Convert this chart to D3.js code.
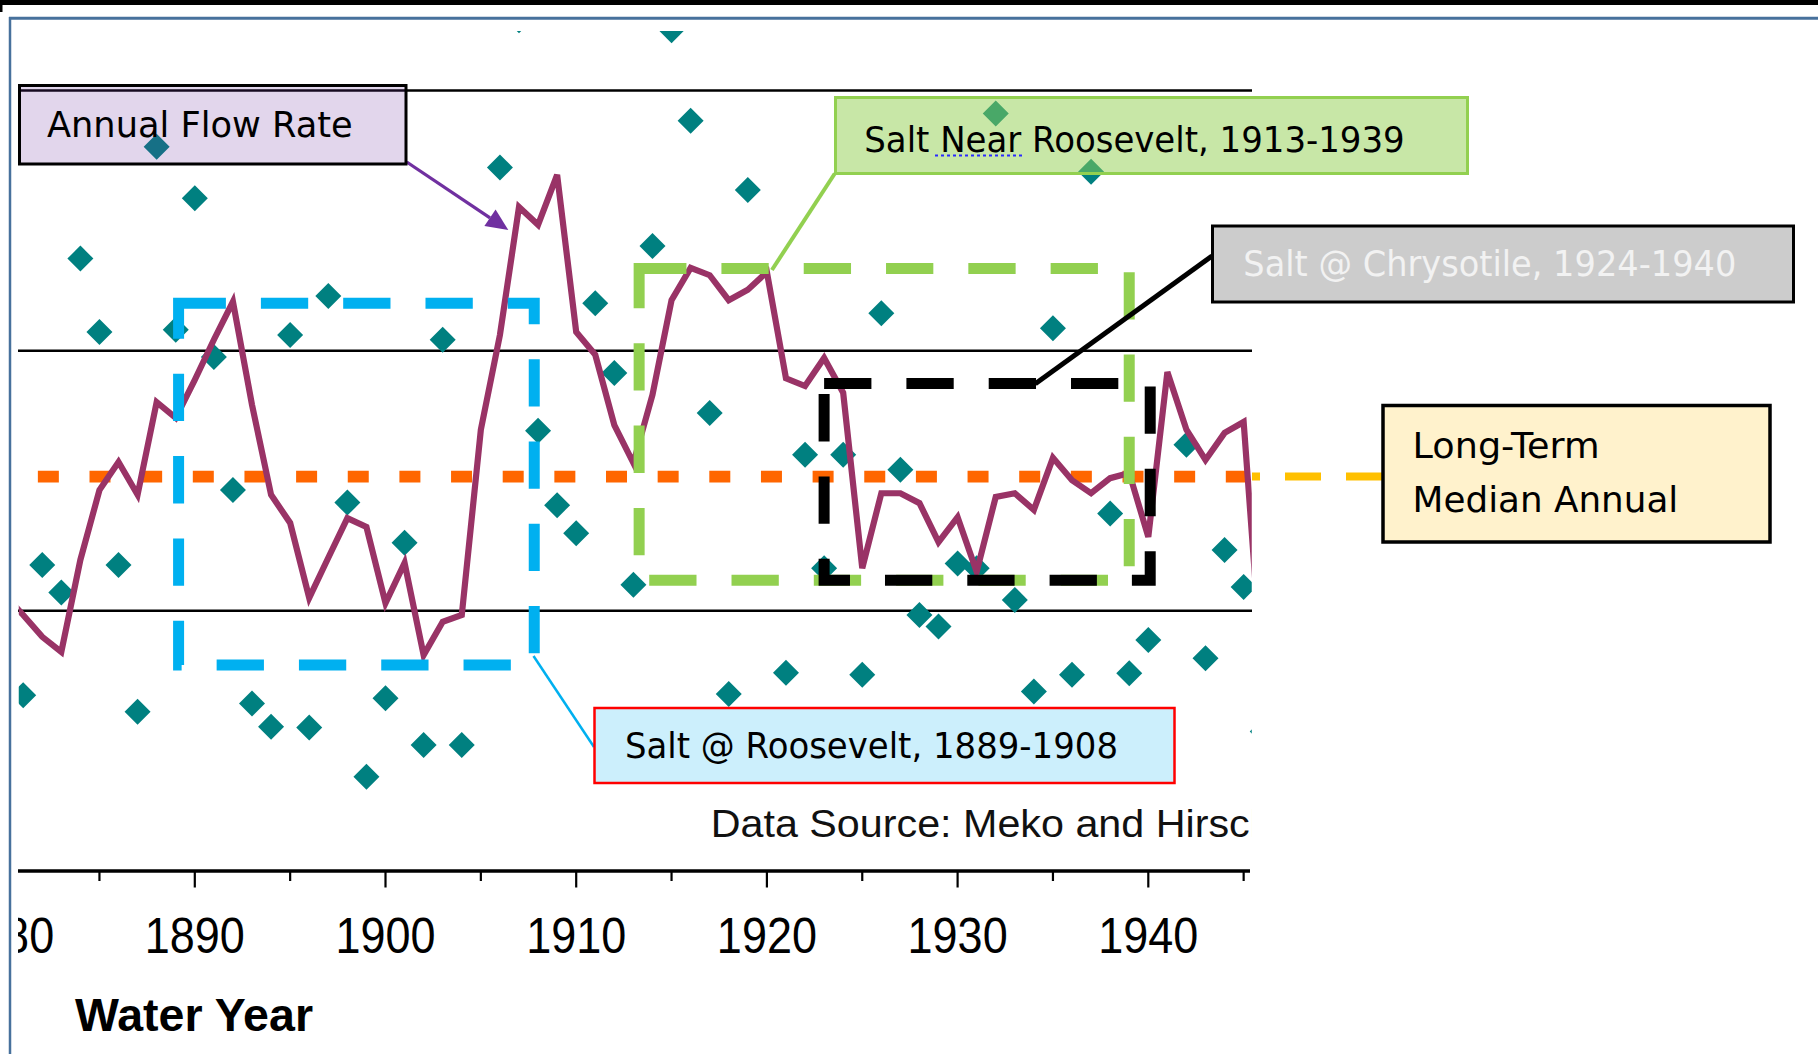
<!DOCTYPE html>
<html>
<head>
<meta charset="utf-8">
<script src="https://cdn.jsdelivr.net/npm/d3@7"></script>
<style>
  body { margin: 0; background: #fff; overflow: hidden; }
</style>
</head>
<body>
<svg id="chart" width="1818" height="1054"></svg>
<script>
// annual flow, one diamond per water year (thousand acre-feet)
const flowYears = d3.range(1881, 1947);
const annualFlow = [
  338, 588, 535, 1177, 1036, 588, 306, 1392, 1040, 1293,
  988, 732, 322, 277, 1030, 276, 1105, 708, 181, 332,
  631, 242, 1021, 242, 1720, 1352, 1635, 846, 703, 649,
  1091, 957, 550, 1201, 1616, 1442, 880, 340, 1309, 1680,
  381, 800, 582, 800, 377, 1072, 771, 492, 470, 591,
  582, 1456, 521, 345, 1043, 377, 1344, 687, 380, 444,
  1750, 819, 409, 617, 546, 268
];

// smoothed flow (the plum line)
const smoothYears = d3.range(1880, 1947);
const smoothedFlow = [
  532, 492, 450, 421, 598, 732, 786, 723, 901, 871, 944,
  1021, 1094, 896, 723, 669, 525, 602, 678, 661, 515,
  592, 415, 479, 492, 848, 1030, 1276, 1242, 1338, 1036,
  992, 857, 784, 915, 1097, 1159, 1145, 1097, 1117, 1151,
  947, 932, 986, 919, 582, 726, 726, 707, 632, 680,
  575, 719, 726, 694, 794, 751, 726, 755, 765, 642,
  959, 848, 790, 842, 863, 363
];

const medianFlow = 758;
const medianSpan = [1881.77, 1945.17];
const gridValues = [500, 1000, 1500];
const labelYears = [1880, 1890, 1900, 1910, 1920, 1930, 1940];
const majorTicks = [1890, 1900, 1910, 1920, 1930, 1940];
const minorTicks = [1885, 1895, 1905, 1915, 1925, 1935, 1945];

// gauge record periods (dashed boxes)
const periodStart = [1889.15, 1913.3, 1923.0];
const periodEnd = [1907.8, 1939.0, 1940.1];
const periodHigh = [1091, 1158, 937];
const periodLow = [396, 559, 559];
const periodColors = ["#00b0f0", "#92d050", "#000000"];

const svg = d3.select("#chart");

const x = d3.scaleLinear().domain([1890, 1940]).range([194.8, 1148.3]);
const y = d3.scaleLinear().domain([0, 1500]).range([871, 90.5]);

const defs = svg.append("defs");
defs.append("clipPath").attr("id", "plotClip")
  .append("rect").attr("x", 18.75).attr("y", 31).attr("width", 1233).attr("height", 840);
defs.append("clipPath").attr("id", "labelClip")
  .append("rect").attr("x", 18).attr("y", 880).attr("width", 1800).attr("height", 120);
defs.append("clipPath").attr("id", "sourceClip")
  .append("rect").attr("x", 600).attr("y", 790).attr("width", 652).attr("height", 70);

// window frame bits
svg.append("rect").attr("x", 0).attr("y", 0).attr("width", 1818).attr("height", 5).attr("fill", "#000");
svg.append("rect").attr("x", 0).attr("y", 5).attr("width", 2.5).attr("height", 7).attr("fill", "#000");
svg.append("line").attr("x1", 9).attr("x2", 1818).attr("y1", 18.3).attr("y2", 18.3)
  .attr("stroke", "#47719c").attr("stroke-width", 3);
svg.append("line").attr("x1", 10).attr("x2", 10).attr("y1", 17).attr("y2", 1054)
  .attr("stroke", "#47719c").attr("stroke-width", 2.5);

// gridlines
svg.append("g").selectAll("line").data(gridValues).join("line")
  .attr("x1", 18).attr("x2", 1252)
  .attr("y1", d => y(d)).attr("y2", d => y(d))
  .attr("stroke", "#000").attr("stroke-width", 2.5);

// x axis
const axisG = svg.append("g");
axisG.append("line").attr("x1", 18).attr("x2", 1250).attr("y1", y(0)).attr("y2", y(0))
  .attr("stroke", "#000").attr("stroke-width", 3.3);
axisG.selectAll(".major").data(majorTicks).join("line").attr("class", "major")
  .attr("x1", d => x(d)).attr("x2", d => x(d))
  .attr("y1", y(0)).attr("y2", y(0) + 16.5)
  .attr("stroke", "#000").attr("stroke-width", 2.2);
axisG.selectAll(".minor").data(minorTicks).join("line").attr("class", "minor")
  .attr("x1", d => x(d)).attr("x2", d => x(d))
  .attr("y1", y(0)).attr("y2", y(0) + 10)
  .attr("stroke", "#000").attr("stroke-width", 2.2);

// 1880 is cut by the frame, as in the original
axisG.append("g").attr("clip-path", "url(#labelClip)")
  .selectAll("text").data(labelYears).join("text")
  .attr("transform", d => `translate(${x(d)},952.7) scale(1,1.12)`)
  .attr("text-anchor", "middle")
  .style("font-family", "'Liberation Sans', Arial, sans-serif")
  .style("font-size", "45px")
  .attr("fill", "#000")
  .text(d => d);

svg.append("text")
  .attr("x", 75).attr("y", 1030.7)
  .attr("textLength", 238).attr("lengthAdjust", "spacingAndGlyphs")
  .style("font-family", "'Liberation Sans', Arial, sans-serif")
  .style("font-size", "46px").style("font-weight", "bold")
  .text("Water Year");

svg.append("text")
  .attr("clip-path", "url(#sourceClip)")
  .attr("x", 710.7).attr("y", 836.7)
  .attr("textLength", 562).attr("lengthAdjust", "spacingAndGlyphs")
  .style("font-family", "'Liberation Sans', Arial, sans-serif")
  .style("font-size", "38px")
  .attr("fill", "#111")
  .text("Data Source: Meko and Hirsch");

// plotted data
const plot = svg.append("g").attr("clip-path", "url(#plotClip)");

// long-term median
plot.append("line")
  .attr("x1", x(medianSpan[0])).attr("x2", x(medianSpan[1]))
  .attr("y1", y(medianFlow)).attr("y2", y(medianFlow))
  .attr("stroke", "#ff6600").attr("stroke-width", 11.7)
  .attr("stroke-dasharray", "21,30.65");

const flowPts = flowYears.map((yr, i) => ({ yr: yr, v: annualFlow[i] }));
plot.selectAll(".flow").data(flowPts).join("path").attr("class", "flow")
  .attr("transform", d => `translate(${x(d.yr)},${y(d.v)})`)
  .attr("d", "M0,-13L13,0L0,13L-13,0Z")
  .attr("fill", "#008080");

const smoothPts = smoothYears.map((yr, i) => [yr, smoothedFlow[i]]);
plot.append("path")
  .datum(smoothPts)
  .attr("fill", "none")
  .attr("stroke", "#993366")
  .attr("stroke-width", 6.2)
  .attr("stroke-linejoin", "miter")
  .attr("d", d3.line().x(d => x(d[0])).y(d => y(d[1])));

// dashed period boxes
svg.append("g").selectAll("rect").data(periodStart).join("rect")
  .attr("x", (d, i) => x(periodStart[i]))
  .attr("y", (d, i) => y(periodHigh[i]))
  .attr("width", (d, i) => x(periodEnd[i]) - x(periodStart[i]))
  .attr("height", (d, i) => y(periodLow[i]) - y(periodHigh[i]))
  .attr("fill", "none")
  .attr("stroke", (d, i) => periodColors[i])
  .attr("stroke-width", 11)
  .attr("stroke-dasharray", "47.3,35");

// leader lines
const leaders = svg.append("g");
leaders.append("line").attr("x1", 406.7).attr("y1", 162).attr("x2", 490).attr("y2", 217.8)
  .attr("stroke", "#7030a0").attr("stroke-width", 3.3);
leaders.append("polygon").attr("points", "508.3,230 484.4,226.1 495.6,209.5").attr("fill", "#7030a0");
leaders.append("line").attr("x1", 771.9).attr("y1", 270).attr("x2", 834.8).attr("y2", 173.5)
  .attr("stroke", "#92d050").attr("stroke-width", 4);
leaders.append("line").attr("x1", 1035.3).attr("y1", 383.7).attr("x2", 1212).attr("y2", 256)
  .attr("stroke", "#000").attr("stroke-width", 5);
leaders.append("line").attr("x1", 533.5).attr("y1", 656).attr("x2", 594).attr("y2", 747)
  .attr("stroke", "#00b0f0").attr("stroke-width", 2.5);
leaders.append("line").attr("x1", 1382).attr("y1", y(medianFlow)).attr("x2", 1252).attr("y2", y(medianFlow))
  .attr("stroke", "#ffc000").attr("stroke-width", 8).attr("stroke-dasharray", "36,25");

// callout boxes
function callout(bx, by, bw, bh, fill, op, stroke, sw) {
  svg.append("rect").attr("x", bx).attr("y", by).attr("width", bw).attr("height", bh)
    .attr("fill", fill).attr("fill-opacity", op)
    .attr("stroke", stroke).attr("stroke-width", sw);
}
function boxText(t, tx, ty, len, fill) {
  svg.append("text").attr("x", tx).attr("y", ty)
    .attr("textLength", len).attr("lengthAdjust", "spacingAndGlyphs")
    .style("font-family", "'DejaVu Sans', sans-serif")
    .style("font-size", "35px")
    .attr("fill", fill)
    .text(t);
}

callout(19.5, 85.5, 386.5, 78.5, "#7030a0", 0.2, "#000", 3);
boxText("Annual Flow Rate", 47, 136.7, 305.7, "#000");

callout(835.5, 97.5, 632, 76, "#92d050", 0.5, "#92d050", 3);
boxText("Salt Near Roosevelt, 1913-1939", 864.3, 151.7, 540.4, "#000");
svg.append("line").attr("x1", 935).attr("x2", 1022).attr("y1", 155.5).attr("y2", 155.5)
  .attr("stroke", "#2a2aff").attr("stroke-width", 2).attr("stroke-dasharray", "3,3");

callout(1212.5, 226, 581, 76, "#cccccc", 1, "#000", 3);
boxText("Salt @ Chrysotile, 1924-1940", 1243.3, 275.6, 493, "#f2f2f2");

callout(594.5, 708, 580, 75, "#00b0f0", 0.2, "#ff0000", 2.5);
boxText("Salt @ Roosevelt, 1889-1908", 625, 758.3, 493, "#000");

callout(1383, 405.5, 387, 136.5, "#fff2cc", 1, "#000", 3.5);
boxText("Long-Term", 1412.6, 458, 187, "#000");
boxText("Median Annual", 1412.6, 511.5, 265.7, "#000");
</script>
</body>
</html>
